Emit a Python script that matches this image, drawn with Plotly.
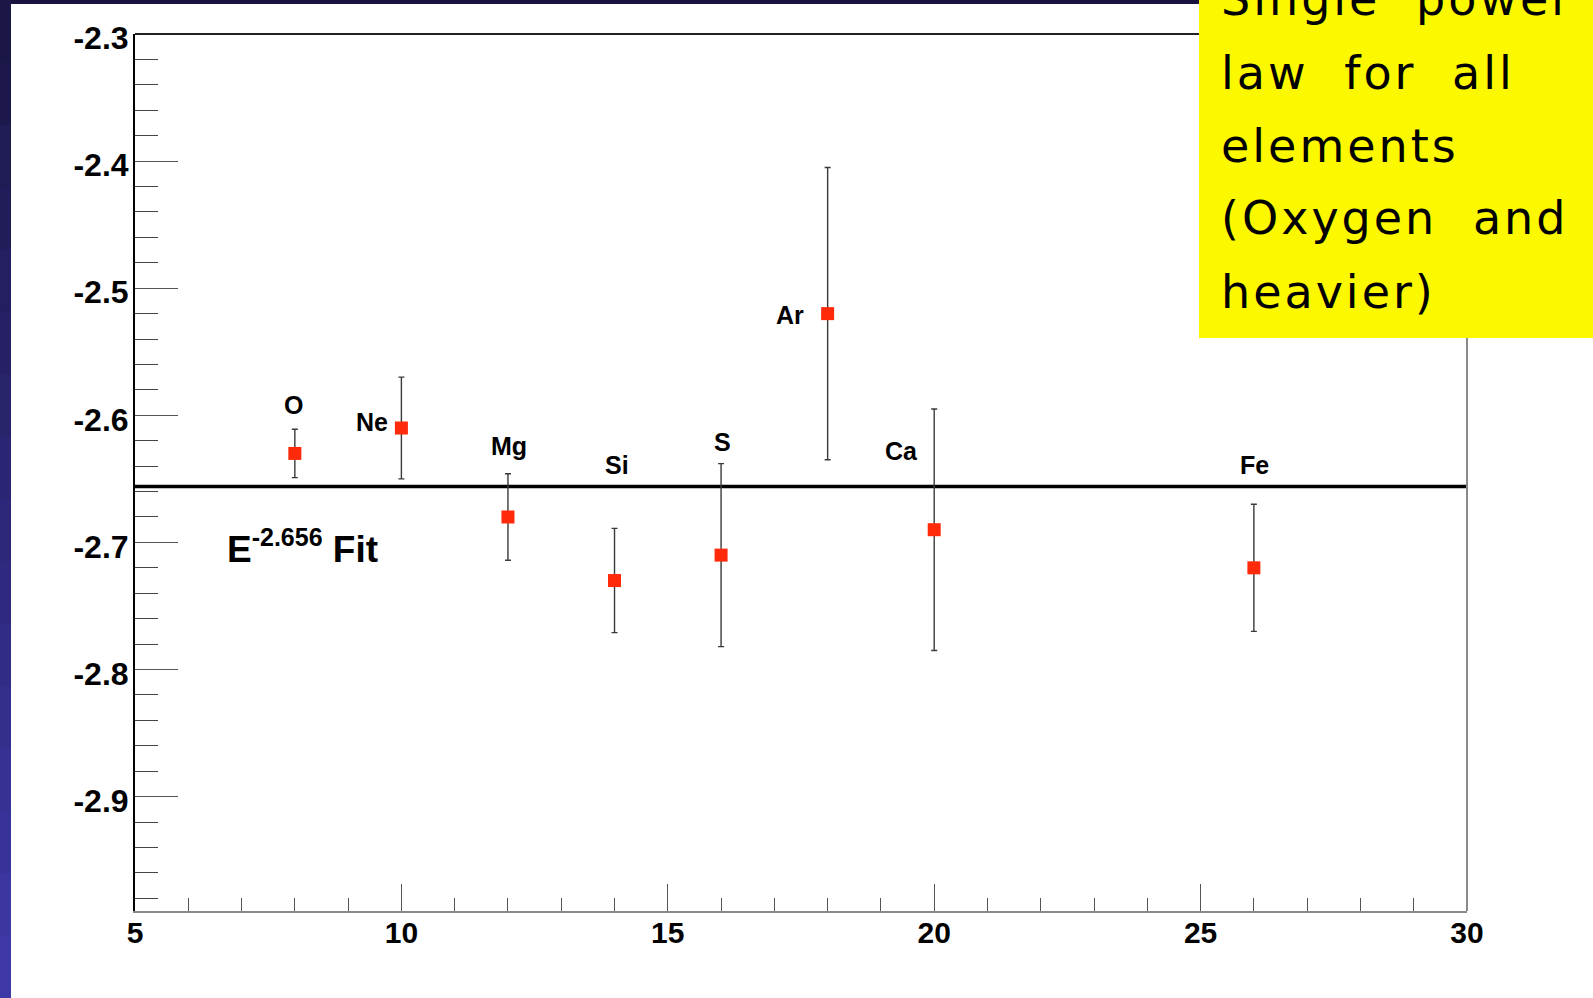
import plotly.graph_objects as go

# Spectral index per element (power-law fit), charge Z on x
charge = [8, 10, 12, 14, 16, 18, 20, 26]
elements = ["O", "Ne", "Mg", "Si", "S", "Ar", "Ca", "Fe"]
spectral_index = [-2.63, -2.61, -2.68, -2.73, -2.71, -2.52, -2.69, -2.72]
index_error = [0.019, 0.040, 0.034, 0.041, 0.072, 0.115, 0.095, 0.050]
fit_index = -2.656
fit_span = [5, 30]

y_ticks = [-2.3, -2.4, -2.5, -2.6, -2.7, -2.8, -2.9]
y_tick_labels = ["-2.3", "-2.4", "-2.5", "-2.6", "-2.7", "-2.8", "-2.9"]
x_ticks = [5, 10, 15, 20, 25, 30]
x_tick_labels = ["5", "10", "15", "20", "25", "30"]

note_lines = ["Single power", "law for all", "elements", "(Oxygen and", "heavier)"]

# label anchors (data units) for the element names
label_x = [7.98, 9.44, 12.02, 14.05, 16.02, 17.29, 19.38, 26.02]
label_y = [-2.592, -2.605, -2.624, -2.639, -2.621, -2.521, -2.628, -2.639]

W, H = 1593, 998
L, R, T, B = 135, 1467, 34, 911


def px(x):
    return (x - L) / (R - L)


def py(y):
    return (B - y) / (B - T)


fig = go.Figure()

# fitted common index
fig.add_trace(go.Scatter(
    x=fit_span, y=[fit_index, fit_index], mode="lines",
    line=dict(color="black", width=3.5), hoverinfo="skip", showlegend=False,
))

# measured points with errors
fig.add_trace(go.Scatter(
    x=charge, y=spectral_index, mode="markers",
    marker=dict(symbol="square", size=13, color="#ff2a0a", line=dict(width=0)),
    error_y=dict(type="data", array=index_error, visible=True,
                 color="#3a3a3a", thickness=1.4, width=3),
    text=elements, showlegend=False,
))

annotations = []
for name, lx, ly in zip(elements, label_x, label_y):
    annotations.append(dict(
        x=lx, y=ly, xref="x", yref="y", text=name, showarrow=False,
        xanchor="center", yanchor="middle",
        font=dict(family="Liberation Sans", size=25, color="black", weight="bold"),
    ))

annotations.append(dict(
    x=6.68, y=-2.703, xref="x", yref="y", xanchor="left", yanchor="middle",
    text='E<sup><span style="font-size:25px">%.3f</span></sup> Fit' % fit_index,
    showarrow=False,
    font=dict(family="Liberation Sans", size=37, color="black", weight="bold"),
))

# note box text, one line per annotation
line_centers = [-1, 73, 146, 218, 292]
for txt, cy in zip(note_lines, line_centers):
    annotations.append(dict(
        x=px(1219), y=py(cy), xref="paper", yref="paper",
        xanchor="left", yanchor="middle", showarrow=False,
        text='<span style="letter-spacing:3px;word-spacing:18px">%s</span>' % txt,
        font=dict(family="DejaVu Sans", size=46, color="black"),
    ))

shapes = []
# dark slide border: top band and left gradient band
shapes.append(dict(type="rect", xref="paper", yref="paper",
                   x0=px(0), x1=px(1200), y0=py(4), y1=py(0),
                   fillcolor="#18143f", line=dict(width=0), layer="above"))
n = 16
c0 = (0x1a, 0x16, 0x46)
c1 = (0x3d, 0x38, 0xa6)
for i in range(n):
    f = i / (n - 1)
    col = "rgb(%d,%d,%d)" % tuple(round(a + (b - a) * f) for a, b in zip(c0, c1))
    y0 = H * i / n
    y1 = H * (i + 1) / n
    shapes.append(dict(type="rect", xref="paper", yref="paper",
                       x0=px(0), x1=px(11), y0=py(y1 + 1), y1=py(y0),
                       fillcolor=col, line=dict(width=0), layer="above"))

# frame: top and right edges
shapes.append(dict(type="line", xref="paper", yref="paper",
                   x0=0, x1=1, y0=1, y1=1, line=dict(color="#222", width=2), layer="above"))
shapes.append(dict(type="line", xref="paper", yref="paper",
                   x0=1, x1=1, y0=0, y1=1, line=dict(color="#8a8a8a", width=2), layer="above"))

# note box
shapes.append(dict(type="rect", xref="paper", yref="paper",
                   x0=px(1199), x1=px(W + 5), y0=py(338), y1=py(-5),
                   fillcolor="#fcf800", line=dict(width=0), layer="above"))

x_tick_font = dict(family="Liberation Sans", size=30, color="black", weight="bold")
y_tick_font = dict(family="Liberation Sans", size=32, color="black", weight="bold")

fig.update_layout(
    width=W, height=H,
    margin=dict(l=L, r=W - R, t=T, b=H - B, pad=0),
    paper_bgcolor="white", plot_bgcolor="white",
    showlegend=False,
    annotations=annotations,
    shapes=shapes,
    xaxis=dict(
        range=[5, 30], tickmode="array", tickvals=x_ticks, ticktext=x_tick_labels,
        showgrid=False, zeroline=False,
        showline=True, linecolor="#8a8a8a", linewidth=2,
        ticks="inside", ticklen=27, tickwidth=1.3, tickcolor="#555",
        minor=dict(dtick=1, tick0=5, ticks="inside", ticklen=13, tickwidth=1.3, tickcolor="#555"),
        tickfont=x_tick_font, ticklabelstandoff=-6,
    ),
    yaxis=dict(
        range=[-2.99, -2.3], tickmode="array", tickvals=y_ticks, ticktext=y_tick_labels,
        showgrid=False, zeroline=False,
        showline=True, linecolor="black", linewidth=2,
        ticks="inside", ticklen=43, tickwidth=1.3, tickcolor="#555",
        minor=dict(dtick=0.02, tick0=-2.3, ticks="inside", ticklen=23, tickwidth=1.3, tickcolor="#444"),
        tickfont=y_tick_font, ticklabelstandoff=-2, ticklabelshift=4,
    ),
)

fig.write_html("out.html")
